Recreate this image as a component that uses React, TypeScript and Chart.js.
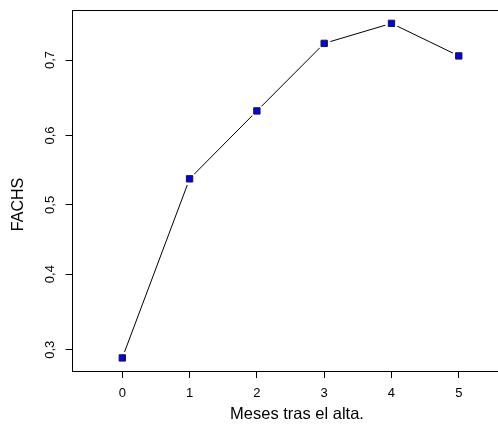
import React, { useEffect, useRef } from 'react';
import { Chart, registerables, LinearScale } from 'chart.js';

// Months since discharge and the FACHS score at each month
const months = [0, 1, 2, 3, 4, 5];
const fachs = [0.290, 0.538, 0.634, 0.720, 0.743, 0.705];

const xTicks = [0, 1, 2, 3, 4, 5];
const yTicks = [0.3, 0.4, 0.5, 0.6, 0.7];

const xTitle = 'Meses tras el alta.';
const yTitle = 'FACHS';

const FONT = '"Liberation Sans", Arial, Helvetica, sans-serif';

const logit = (p: number) => Math.log(p / (1 - p));
const expit = (l: number) => 1 / (1 + Math.exp(-l));

// Linear scale drawn on the logit of its values
class LogitScale extends LinearScale {
  static id = 'logit';
  static defaults = LinearScale.defaults;
  _lo = 0;
  _span = 1;

  configure() {
    super.configure();
    this._lo = logit(this.min);
    this._span = logit(this.max) - this._lo;
  }

  getPixelForValue(value: number) {
    return this.getPixelForDecimal((logit(value) - this._lo) / this._span);
  }

  getValueForPixel(pixel: number) {
    return expit(this._lo + this.getDecimalForPixel(pixel) * this._span);
  }
}

Chart.register(...registerables, LogitScale);

const align = (v: number) => Math.round(v - 0.5) + 0.5;

// Box round the plot region and the rotated y-axis title
const framePlugin = {
  id: 'frame',
  afterDraw(chart: any) {
    const { ctx, chartArea: a } = chart;
    ctx.save();
    ctx.strokeStyle = '#000';
    ctx.lineWidth = 1;
    const l = align(a.left), t = align(a.top), r = align(a.right), b = align(a.bottom);
    ctx.strokeRect(l, t, r - l, b - t);

    ctx.translate(19, 204.5);
    ctx.rotate(-Math.PI / 2);
    ctx.fillStyle = '#000';
    ctx.font = `16px ${FONT}`;
    ctx.textAlign = 'center';
    ctx.textBaseline = 'middle';
    ctx.fillText(yTitle, 0, 0);
    ctx.restore();
  },
};

export default function App() {
  const ref = useRef<HTMLCanvasElement>(null);

  useEffect(() => {
    const points = months.map((m, i) => ({ x: m, y: fachs[i] }));
    const chart = new Chart(ref.current!, {
      type: 'line',
      data: {
        datasets: [
          {
            data: points,
            showLine: false,
            pointStyle: 'rect',
            pointRadius: 4.5,
            pointBackgroundColor: '#0000ff',
            pointBorderColor: '#1a1a1a',
            pointBorderWidth: 1,
            order: 0,
          },
          {
            // white gap round each marker, as in a "both" style plot
            data: points,
            showLine: false,
            pointStyle: 'circle',
            pointRadius: 6.5,
            pointBackgroundColor: '#ffffff',
            pointBorderWidth: 0,
            order: 1,
          },
          {
            data: points,
            borderColor: '#000',
            borderWidth: 1,
            pointRadius: 0,
            tension: 0,
            fill: false,
            order: 2,
          },
        ],
      },
      options: {
        responsive: false,
        animation: false,
        devicePixelRatio: 1,
        events: [],
        layout: { padding: { left: 0, top: 10, right: 540 - 521.5, bottom: 0 } },
        plugins: {
          legend: { display: false },
          tooltip: { enabled: false },
        },
        scales: {
          x: {
            type: 'linear',
            min: -0.74,
            max: 5.932,
            bounds: 'data',
            afterBuildTicks: (s: any) => {
              s.ticks = xTicks.map((v) => ({ value: v }));
            },
            afterFit: (s: any) => {
              s.height = 55;
              s.paddingLeft = 0;
              s.paddingRight = 0;
            },
            grid: { drawOnChartArea: false, drawTicks: true, tickLength: 7, tickColor: '#000', lineWidth: 1 },
            border: { display: true, color: '#000', width: 1 },
            ticks: {
              color: '#000',
              font: { family: FONT, size: 13 },
              padding: 8,
              autoSkip: false,
              maxRotation: 0,
              callback: (v: any) => String(v),
            },
            title: {
              display: true,
              text: xTitle,
              color: '#000',
              font: { family: FONT, size: 16.5 },
              padding: { top: 0, bottom: 2 },
            },
          },
          y: {
            type: 'logit' as any,
            position: 'left',
            min: 0.2745,
            max: 0.75765,
            bounds: 'data',
            afterBuildTicks: (s: any) => {
              s.ticks = yTicks.map((v) => ({ value: v }));
            },
            afterFit: (s: any) => {
              s.width = 72.5;
              s.paddingTop = 0;
              s.paddingBottom = 0;
            },
            grid: { drawOnChartArea: false, drawTicks: true, tickLength: 7, tickColor: '#000', lineWidth: 1 },
            border: { display: true, color: '#000', width: 1 },
            ticks: {
              color: '#000',
              font: { family: FONT, size: 13 },
              padding: 6,
              autoSkip: false,
              minRotation: 90,
              maxRotation: 90,
              crossAlign: 'center',
              callback: (v: any) => Number(v).toFixed(1).replace('.', ','),
            },
          },
        },
      },
      plugins: [framePlugin],
    } as any);
    return () => chart.destroy();
  }, []);

  return (
    <div
      style={{
        position: 'fixed',
        left: 0,
        top: 0,
        width: 498,
        height: 426,
        overflow: 'hidden',
        background: '#fff',
      }}
    >
      <canvas ref={ref} width={540} height={426} style={{ display: 'block', width: 540, height: 426 }} />
    </div>
  );
}
